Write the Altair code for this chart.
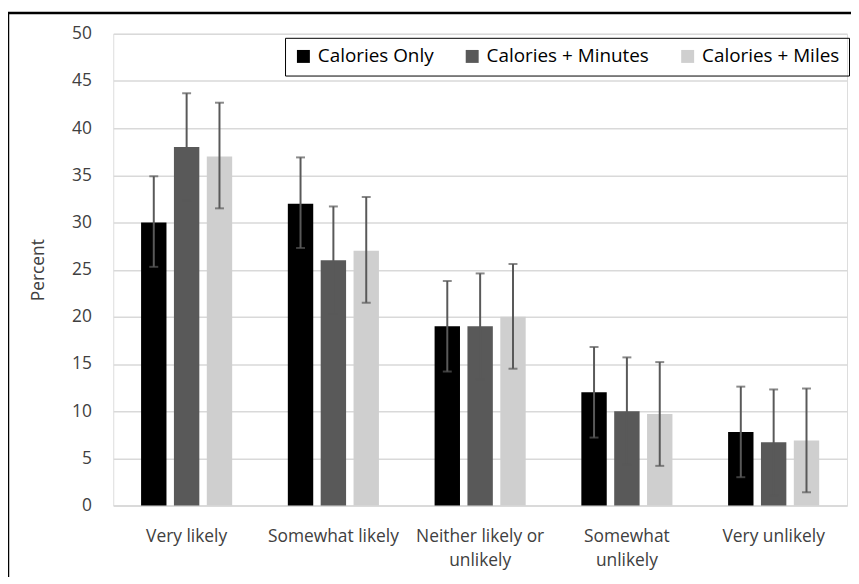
import altair as alt
import pandas as pd

categories = ["Very likely", "Somewhat likely", "Neither likely or\nunlikely",
              "Somewhat\nunlikely", "Very unlikely"]
series = ["Calories Only", "Calories + Minutes", "Calories + Miles"]
colors = ["#000000", "#595959", "#cfcfcf"]

only_val = [30, 32, 19, 12, 7.8]
only_lo = [25.3, 27.3, 14.2, 7.2, 3.0]
only_hi = [34.9, 36.9, 23.8, 16.8, 12.6]

minutes_val = [38, 26, 19, 10, 6.7]
minutes_lo = [32.3, 20.3, 13.4, 4.3, 1.1]
minutes_hi = [43.7, 31.7, 24.6, 15.7, 12.3]

miles_val = [37, 27, 20, 9.7, 6.9]
miles_lo = [31.5, 21.5, 14.5, 4.2, 1.4]
miles_hi = [42.7, 32.7, 25.6, 15.2, 12.4]

y_ticks = [0, 5, 10, 15, 20, 25, 30, 35, 40, 45, 50]

rows = []
for s, vals, los, his in [
    (series[0], only_val, only_lo, only_hi),
    (series[1], minutes_val, minutes_lo, minutes_hi),
    (series[2], miles_val, miles_lo, miles_hi),
]:
    for c, v, lo, hi in zip(categories, vals, los, his):
        rows.append({"category": c, "series": s, "value": v, "lo": lo, "hi": hi})
df = pd.DataFrame(rows)

FONT = "Open Sans"
TXT = "#404040"
ERR = "#595959"

x_enc = alt.X(
    "category:N", sort=categories, title=None,
    scale=alt.Scale(paddingInner=0.33, paddingOuter=0.165),
    axis=alt.Axis(labelAngle=0, labelExpr="split(datum.value, '\\n')",
                  labelFontSize=17.5, labelColor=TXT, labelFont=FONT,
                  labelPadding=22, labelLineHeight=24, ticks=False, grid=False,
                  domainColor="#d9d9d9", domainWidth=1.5, labelBaseline="top"),
)
xo_enc = alt.XOffset("series:N", sort=series,
                     scale=alt.Scale(paddingInner=0.227, paddingOuter=0.11))

y_scale = alt.Scale(domain=[0, 50], nice=False)

bars = alt.Chart(df).mark_bar().encode(
    x=x_enc,
    xOffset=xo_enc,
    y=alt.Y("value:Q", scale=y_scale, title="Percent",
            axis=alt.Axis(values=y_ticks, labelFontSize=17.5, labelColor=TXT,
                          labelFont=FONT, labelPadding=22, ticks=False,
                          domain=False, gridColor="#d9d9d9", gridWidth=1.5,
                          titleFont=FONT, titleFontSize=17.5, titleColor=TXT,
                          titleFontWeight="normal", titlePadding=24)),
    color=alt.Color("series:N", sort=series,
                    scale=alt.Scale(domain=series, range=colors),
                    legend=alt.Legend(
                        title=None, orient="none", direction="horizontal",
                        legendX=173, legendY=4, symbolType="square",
                        symbolSize=170, symbolStrokeWidth=0,
                        labelFontSize=19, labelFont=FONT, labelColor="#000000",
                        labelLimit=400, labelOffset=5, columnPadding=29,
                        padding=9, strokeColor="#000000")),
)

rules = alt.Chart(df).mark_rule(color=ERR, strokeWidth=2).encode(
    x=alt.X("category:N", sort=categories),
    xOffset=alt.XOffset("series:N", sort=series),
    y=alt.Y("lo:Q", scale=y_scale),
    y2="hi:Q",
)
caps_hi = alt.Chart(df).mark_tick(color=ERR, thickness=2, size=9).encode(
    x=alt.X("category:N", sort=categories),
    xOffset=alt.XOffset("series:N", sort=series),
    y=alt.Y("hi:Q", scale=y_scale),
)
caps_lo = alt.Chart(df).mark_tick(color=ERR, thickness=2, size=9).encode(
    x=alt.X("category:N", sort=categories),
    xOffset=alt.XOffset("series:N", sort=series),
    y=alt.Y("lo:Q", scale=y_scale),
)

frame = alt.Chart(pd.DataFrame({"k": [0]})).mark_rect(
    fill=None, stroke="#000000", strokeWidth=2.5).encode(
    x=alt.value(-106), x2=alt.value(760),
    y=alt.value(-21), y2=alt.value(600),
)

chart = alt.layer(bars, rules, caps_hi, caps_lo, frame).properties(
    width=739, height=475,
    autosize=alt.AutoSizeParams(type="none"),
    padding={"left": 106, "top": 24, "right": 4, "bottom": 70},
).configure_view(stroke=None).configure(background="white")

chart.save("out.html", embed_options={"renderer": "svg", "actions": False})
